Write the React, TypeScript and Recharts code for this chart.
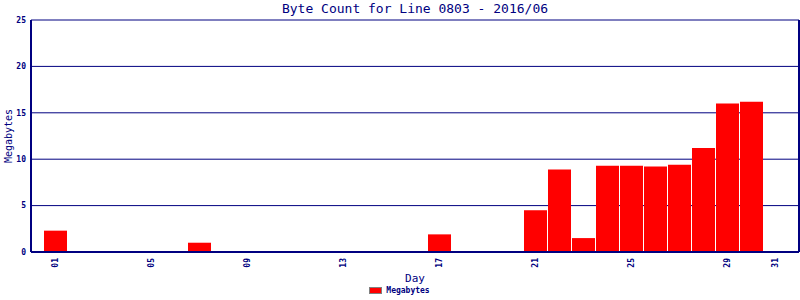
import { BarChart, Bar, XAxis, YAxis, CartesianGrid, Legend, ReferenceLine } from 'recharts';

const days = [1, 2, 3, 4, 5, 6, 7, 8, 9, 10, 11, 12, 13, 14, 15, 16, 17, 18, 19, 20, 21, 22, 23, 24, 25, 26, 27, 28, 29, 30, 31];
const megabytes = [2.3, 0, 0, 0, 0, 0, 1.0, 0, 0, 0, 0, 0, 0, 0, 0, 0, 1.9, 0, 0, 0, 4.5, 8.9, 1.5, 9.3, 9.3, 9.2, 9.4, 11.2, 16.0, 16.2, 0];
const dayTicks = [1, 5, 9, 13, 17, 21, 25, 29, 31];
const mbTicks = [0, 5, 10, 15, 20, 25];

const data = days.map((d, i) => ({ day: d, mb: megabytes[i] }));

const NAVY = '#000080';
const FONT = '"DejaVu Sans Mono", monospace';

const DayTick = ({ x, y, payload }: any) => (
  <text
    x={x}
    y={y}
    transform={`rotate(-90 ${x} ${y})`}
    textAnchor="end"
    dominantBaseline="central"
    fontFamily={FONT}
    fontSize={8}
    fontWeight="bold"
    fill={NAVY}
  >
    {String(payload.value).padStart(2, '0')}
  </text>
);

const LegendBox = () => (
  <div style={{ display: 'flex', justifyContent: 'center', alignItems: 'center', gap: 4, fontFamily: FONT, fontSize: 8, fontWeight: 'bold', color: NAVY }}>
    <div style={{ width: 11, height: 5, background: '#ff0000', border: '1px solid #808080' }} />
    <span>Megabytes</span>
  </div>
);

export default function App() {
  return (
    <div style={{ position: 'absolute', left: 0, top: 0, width: 800, height: 300, background: '#fff' }}>
      <div style={{ position: 'absolute', top: 0, left: 31, width: 768, textAlign: 'center', fontFamily: FONT, fontSize: 13, color: NAVY, lineHeight: '17px' }}>
        Byte Count for Line 0803 - 2016/06
      </div>
      <BarChart width={800} height={300} data={data} margin={{ top: 20, right: 1, left: 0, bottom: 0 }}>
        <CartesianGrid vertical={false} stroke={NAVY} strokeWidth={1} />
        <XAxis
          dataKey="day"
          type="number"
          domain={[0, 32]}
          ticks={dayTicks}
          interval={0}
          height={34}
          tickLine={false}
          tickSize={0}
          tickMargin={6}
          tick={<DayTick />}
          axisLine={{ stroke: NAVY, strokeWidth: 2 }}
          label={{ value: 'Day', position: 'insideBottom', offset: 4, fill: NAVY, fontFamily: FONT, fontSize: 11 }}
        />
        <YAxis
          width={31}
          domain={[0, 25]}
          ticks={mbTicks}
          interval={0}
          tickLine={false}
          tickSize={3}
          tickMargin={2}
          tick={{ fill: NAVY, fontFamily: FONT, fontSize: 8, fontWeight: 'bold' }}
          axisLine={{ stroke: NAVY, strokeWidth: 2 }}
          label={{ value: 'Megabytes', angle: -90, position: 'center', dx: -7, fill: NAVY, fontFamily: FONT, fontSize: 10 }}
        />
        <ReferenceLine x={32} stroke={NAVY} strokeWidth={2} />
        <Legend verticalAlign="bottom" height={14} content={<LegendBox />} />
        <Bar dataKey="mb" name="Megabytes" fill="#ff0000" barSize={23} isAnimationActive={false} />
      </BarChart>
    </div>
  );
}
